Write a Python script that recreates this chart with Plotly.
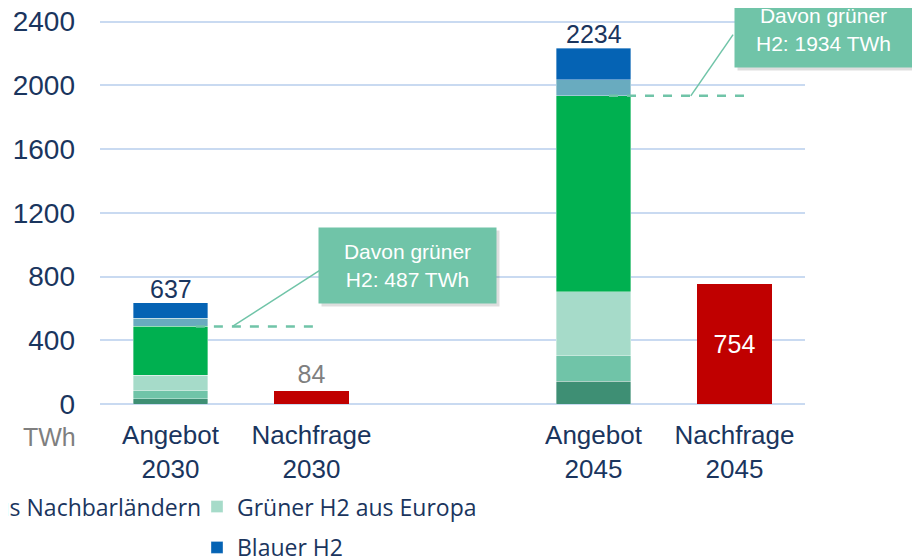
import plotly.graph_objects as go

# ---- data ----
categories = ["Angebot<br>2030", "Nachfrage<br>2030", " ", "Angebot<br>2045", "Nachfrage<br>2045"]
supply_x = ["Angebot<br>2030", "Angebot<br>2045"]
demand_x = ["Nachfrage<br>2030", "Nachfrage<br>2045"]

series_names = [
    "Grüner H2 aus Deutschland",
    "Grüner H2 aus Nachbarländern",
    "Grüner H2 aus Europa",
    "Grüner H2 aus Übersee",
    "Türkiser H2",
    "Blauer H2",
]
gruen_de = [33, 144]
gruen_nachbar = [51, 159]
gruen_europa = [98, 400]
gruen_uebersee = [305, 1231]
tuerkis = [50, 100]
blau = [100, 200]
demand = [84, 754]

series_values = [gruen_de, gruen_nachbar, gruen_europa, gruen_uebersee, tuerkis, blau]
series_colors = ["#3e8f74", "#70c4a8", "#a6dbc9", "#00b050", "#69abbf", "#0563b4"]
legend_ids = ["legend", "legend2", "legend3", "legend", "legend2", "legend3"]

green_total = [sum(v) for v in zip(gruen_de, gruen_nachbar, gruen_europa, gruen_uebersee)]
supply_total = [sum(v) for v in zip(*series_values)]

NAVY = "#1a355e"
GRID = "#c9daf1"
BOX = "#70c4a8"
AX_FONT = "Liberation Sans, Arial, sans-serif"
LEG_FONT = "Open Sans, sans-serif"

Y_MAX = 2410
L, PW = 92, 705
PH = 382 * Y_MAX / 2400
T = 396 - PH  # plot area in figure pixels

fig = go.Figure()
for i, (name, vals, col, lg) in enumerate(zip(series_names, series_values, series_colors, legend_ids)):
    fig.add_trace(go.Bar(
        x=supply_x, y=vals, name=name, marker_color=col,
        marker_line=dict(width=0.8, color="rgba(255,255,255,0.45)"),
        width=0.525, legend=lg, legendgroup="g%d" % i,
    ))

fig.add_trace(go.Bar(
    x=demand_x, y=demand, name="Nachfrage", marker_color="#c00000",
    marker_line_width=0, width=0.525, showlegend=False,
    text=[str(v) for v in demand], textposition=["outside", "inside"],
    insidetextanchor="middle", textangle=0, constraintext="none",
    textfont=dict(family=AX_FONT, size=25, color=["#7f7f7f", "white"]),
    cliponaxis=False,
))

# totals above supply bars
for xc, tot in zip(supply_x, supply_total):
    fig.add_annotation(x=xc, y=tot, text=str(tot), showarrow=False, yanchor="bottom",
                       font=dict(family=AX_FONT, size=25, color=NAVY), yshift=-2)

# dashed green lines and callouts
dash_spans = [(0.18, 1.05), (3.11, 4.1)]
conn_start_x = [0.44, 3.69]
conn_end = [(1.064, 842), (3.99, 2318)]
box_refs = [("x", "y", 1.684, 870), ("paper", "paper", (815 - L) / PW, (T + PH - 21.5) / PH)]
for k in range(2):
    g = green_total[k]
    fig.add_shape(type="line", xref="x", yref="y", x0=dash_spans[k][0], x1=dash_spans[k][1],
                  y0=g, y1=g, line=dict(color=BOX, width=2.5, dash="dash"))
    fig.add_shape(type="line", xref="x", yref="y", x0=conn_start_x[k], y0=g,
                  x1=conn_end[k][0], y1=conn_end[k][1], line=dict(color=BOX, width=1.5))
    xr, yr, bx, by = box_refs[k]
    fig.add_annotation(xref=xr, yref=yr, x=bx, y=by, xanchor="center", yanchor="middle",
                       text=" ", showarrow=False, width=175, height=73,
                       bgcolor="rgba(0,0,0,0.13)", xshift=3, yshift=-3)
    fig.add_annotation(xref=xr, yref=yr, x=bx, y=by, xanchor="center", yanchor="middle",
                       text="Davon grüner<br>H2: %d TWh" % g,
                       showarrow=False, width=175, height=73, bgcolor=BOX, align="center",
                       font=dict(family=AX_FONT, size=21, color="white"))

# unit label
fig.add_annotation(xref="paper", yref="paper", x=0, y=0, xanchor="right", yanchor="top",
                   xshift=-22, yshift=-17, text="TWh", showarrow=False,
                   font=dict(family=AX_FONT, size=25, color="#7f7f7f"))

leg_common = dict(orientation="v", traceorder="grouped", tracegroupgap=8,
                  font=dict(family=LEG_FONT, size=23, color=NAVY),
                  bgcolor="rgba(0,0,0,0)", xref="paper", yref="paper",
                  yanchor="top", y=-81 / PH)

fig.update_layout(
    width=920, height=557,
    margin=dict(l=L, r=920 - L - PW, t=T, b=557 - T - PH, autoexpand=False),
    plot_bgcolor="white", paper_bgcolor="white",
    barmode="stack",
    xaxis=dict(type="category", categoryorder="array", categoryarray=categories,
               range=[-0.5, 4.5], showgrid=False, showline=False, zeroline=False,
               ticks="", ticklabelstandoff=13,
               tickfont=dict(family=AX_FONT, size=26, color=NAVY)),
    yaxis=dict(range=[0, Y_MAX], dtick=400, tick0=0, showgrid=True, gridcolor=GRID,
               gridwidth=1.5, zeroline=True, zerolinecolor=GRID, zerolinewidth=1.5,
               showline=False, ticks="", ticklabelstandoff=24, ticklabeloverflow="allow",
               tickfont=dict(family=AX_FONT, size=28, color=NAVY)),
    legend=dict(**leg_common, x=(-175 - L) / PW, xanchor="right"),
    legend2=dict(**leg_common, x=(199 - L) / PW, xanchor="right"),
    legend3=dict(**leg_common, x=(189 - L) / PW, xanchor="left"),
    showlegend=True,
)

fig.write_html("out.html")
